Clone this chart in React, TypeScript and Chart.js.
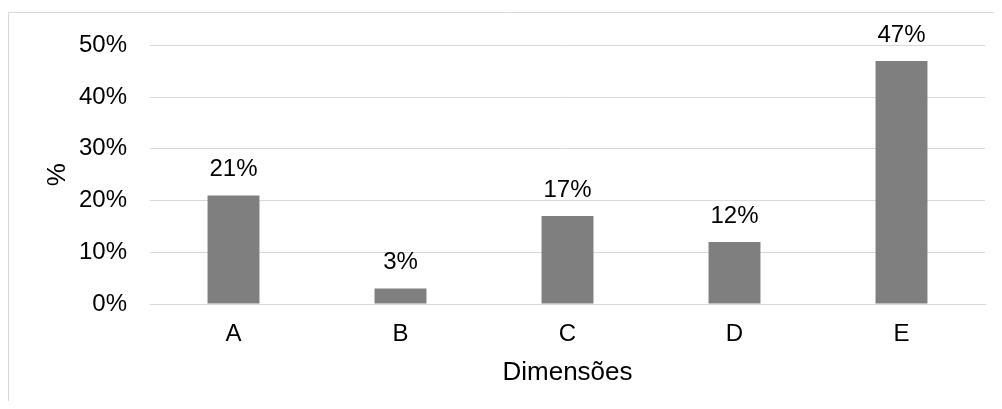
import React, { useEffect, useRef } from "react";
import { Chart, registerables } from "chart.js";

Chart.register(...registerables);

const categories = ["A", "B", "C", "D", "E"];
const values = [21, 3, 17, 12, 47];
const yTicks = [0, 10, 20, 30, 40, 50];
const xTitle = "Dimensões";
const yTitle = "%";

const FONT = "'Liberation Sans', Arial, sans-serif";

const borderPlugin = {
  id: "outerBorder",
  beforeDraw(chart: any) {
    const ctx = chart.ctx;
    ctx.save();
    ctx.strokeStyle = "#d9d9d9";
    ctx.lineWidth = 1;
    ctx.beginPath();
    ctx.moveTo(0.5, chart.height + 5);
    ctx.lineTo(0.5, 4.5);
    ctx.lineTo(chart.width + 5, 4.5);
    ctx.stroke();
    ctx.restore();
  },
};

const labelPlugin = {
  id: "barLabels",
  afterDatasetsDraw(chart: any) {
    const ctx = chart.ctx;
    const meta = chart.getDatasetMeta(0);
    ctx.save();
    ctx.font = `24px ${FONT}`;
    ctx.fillStyle = "#000000";
    ctx.textAlign = "center";
    ctx.textBaseline = "middle";
    meta.data.forEach((bar: any, i: number) => {
      ctx.fillText(`${values[i]}%`, bar.x, bar.y - 26);
    });
    ctx.restore();
  },
};

export default function App() {
  const ref = useRef<HTMLCanvasElement>(null);
  useEffect(() => {
    if (!ref.current) return;
    const chart = new Chart(ref.current, {
      type: "bar",
      data: {
        labels: categories,
        datasets: [
          {
            data: values,
            backgroundColor: "#7f7f7f",
            borderWidth: 0,
            barPercentage: 0.311,
            categoryPercentage: 1,
          },
        ],
      },
      options: {
        animation: false,
        responsive: false,
        maintainAspectRatio: false,
        devicePixelRatio: 1,
        layout: { padding: { left: 0, right: 17, top: 33, bottom: 0 } },
        plugins: { legend: { display: false }, tooltip: { enabled: false } },
        scales: {
          x: {
            grid: { display: false, drawTicks: false },
            border: { display: true, color: "#d9d9d9", width: 1 },
            ticks: { color: "#000000", font: { family: FONT, size: 24 }, padding: 16 },
            title: {
              display: true,
              text: xTitle,
              color: "#000000",
              font: { family: FONT, size: 26 },
              padding: { top: 0, bottom: 13 },
            },
            afterFit(scale: any) {
              scale.height = 97;
            },
          },
          y: {
            min: 0,
            max: 50,
            afterBuildTicks(scale: any) {
              scale.ticks = yTicks.map((v) => ({ value: v }));
            },
            grid: { color: "#d9d9d9", drawTicks: false, lineWidth: 1 },
            border: { display: false },
            ticks: {
              color: "#000000",
              font: { family: FONT, size: 24 },
              padding: 23,
              callback: (v: any) => `${v}%`,
            },
            title: {
              display: true,
              text: yTitle,
              color: "#000000",
              font: { family: FONT, size: 26 },
              padding: { top: 34, bottom: 0 },
            },
            afterFit(scale: any) {
              scale.width = 142;
            },
          },
        },
      },
      plugins: [borderPlugin, labelPlugin],
    });
    return () => chart.destroy();
  }, []);
  return (
    <div style={{ width: 994, height: 393, overflow: "hidden" }}>
      <canvas ref={ref} width={994} height={393} style={{ display: "block" }} />
    </div>
  );
}
